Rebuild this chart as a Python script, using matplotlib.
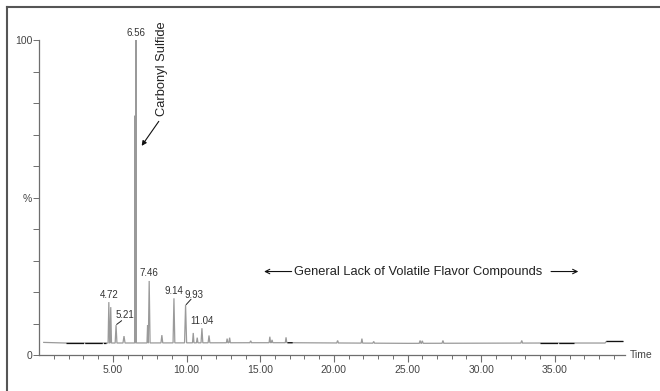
import numpy as np
import matplotlib
matplotlib.use("Agg")
import matplotlib.pyplot as plt
from matplotlib.lines import Line2D

plt.rcParams['font.family'] = ['Liberation Sans', 'DejaVu Sans']

# ---- data ----
# baseline (retention time, % level)
base_times = [0.3, 1.8, 4.6, 14.5, 17.0, 25.0, 34.0, 38.4, 38.5, 39.6]
base_levels = [4.0, 3.8, 3.8, 3.9, 3.9, 3.7, 3.8, 3.8, 4.3, 4.3]

# peaks: retention time, height (%), half width (min)
peak_times = [4.72, 4.85, 5.21, 5.75, 6.50, 6.56, 7.35, 7.46, 8.32, 9.14, 9.93,
              10.45, 10.72, 11.04, 11.52, 12.75, 12.92, 14.35, 15.65, 15.80,
              16.75, 20.25, 21.90, 22.70, 25.85, 26.00, 27.40, 32.75]
peak_heights = [16.8, 15.2, 9.5, 6.0, 76.0, 100.0, 9.5, 23.5, 6.3, 18.0, 15.9,
                7.0, 5.5, 8.5, 6.2, 5.2, 5.5, 4.5, 5.8, 4.8,
                5.6, 4.6, 5.2, 4.3, 4.6, 4.5, 4.6, 4.6]
peak_halfwidths = [0.05, 0.05, 0.06, 0.07, 0.03, 0.03, 0.04, 0.06, 0.06, 0.06, 0.07,
                   0.05, 0.05, 0.06, 0.06, 0.05, 0.05, 0.06, 0.05, 0.05,
                   0.05, 0.06, 0.05, 0.06, 0.06, 0.06, 0.06, 0.06]

# segments of the baseline drawn darker in the original
dark_segments = [(1.8, 4.55), (16.85, 17.2), (34.0, 36.3), (38.5, 39.6)]

# labelled peaks
label_texts = ['4.72', '5.21', '6.56', '7.46', '9.14', '9.93', '11.04']
label_peak_times = [4.72, 5.21, 6.56, 7.46, 9.14, 9.93, 11.04]
label_peak_heights = [16.8, 9.5, 100.0, 23.5, 18.0, 15.9, 8.5]
label_text_pos = [None, (5.80, 12.6), None, None, None, (10.50, 18.9), None]
leader_starts = [None, (5.59, 10.9), None, None, None, (10.30, 17.7), None]
leader_ends = [None, (5.25, 9.7), None, None, None, (9.97, 16.0), None]

x_ticks = [5, 10, 15, 20, 25, 30, 35]
x_ticklabels = ['5.00', '10.00', '15.00', '20.00', '25.00', '30.00', '35.00']
y_ticks = [0, 50, 100]
y_ticklabels = ['0', '%', '100']

# ---- build trace ----
def base_at(t):
    return np.interp(t, base_times, base_levels)

pts = [(t, l) for t, l in zip(base_times, base_levels)]
for t, h, w in zip(peak_times, peak_heights, peak_halfwidths):
    pts += [(t - w, base_at(t - w)), (t, h), (t + w, base_at(t + w))]
pts.sort(key=lambda p: p[0])
tx = np.array([p[0] for p in pts])
ty = np.array([p[1] for p in pts])

W, H = 660, 391
fig = plt.figure(figsize=(W / 100, H / 100), dpi=100)
ax = fig.add_axes([39.3 / W, 36 / H, 585.7 / W, 315 / H])

ax.plot(tx, ty, color='#9a9a9a', lw=0.9, solid_joinstyle='miter', zorder=3)
for a, b in dark_segments:
    ax.plot([a, b], [base_at(a), base_at(b)], color='#111111', lw=0.9,
            dashes=(14, 1.0), zorder=4)

ax.set_xlim(0, 39.76)
ax.set_ylim(0, 100)

for s in ['top', 'right']:
    ax.spines[s].set_visible(False)
for s in ['left', 'bottom']:
    ax.spines[s].set_color('#6e6e6e')
    ax.spines[s].set_linewidth(0.9)

ax.set_xticks(x_ticks)
ax.set_xticklabels(x_ticklabels)
ax.set_xticks(np.arange(1, 40, 1), minor=True)
ax.set_yticks(y_ticks)
ax.set_yticklabels(y_ticklabels)
ax.set_yticks(np.arange(10, 100, 10), minor=True)
ax.tick_params(axis='x', which='major', length=5, width=0.8, color='#6e6e6e',
               labelsize=7.5, labelcolor='#444444', pad=2)
ax.tick_params(axis='x', which='minor', length=3, width=0.7, color='#6e6e6e')
ax.tick_params(axis='y', which='both', length=4, width=0.7, color='#6e6e6e',
               labelsize=7.5, labelcolor='#444444', pad=1)

ax.text(1.008, 0.0, 'Time', transform=ax.transAxes, ha='left', va='center',
        fontsize=7.5, color='#444444')

# peak labels
for txt, t, h, pos, ls, le in zip(label_texts, label_peak_times, label_peak_heights,
                                  label_text_pos, leader_starts, leader_ends):
    if pos is None:
        ax.annotate(txt, xy=(t, h), xytext=(0, 1.8), textcoords='offset points',
                    ha='center', va='bottom', fontsize=7, color='#333333',
                    annotation_clip=False)
    else:
        ax.text(pos[0], pos[1], txt, ha='center', va='center', fontsize=7,
                color='#333333')
        ax.annotate('', xy=le, xytext=ls,
                    arrowprops=dict(arrowstyle='-', color='#222222', lw=0.7,
                                    shrinkA=0, shrinkB=0))

# Carbonyl Sulfide annotation
ax.annotate('Carbonyl Sulfide', xy=(6.95, 66.4), xytext=(8.31, 90.8),
            textcoords='data', rotation=90, ha='center', va='center',
            fontsize=9.3, color='#222222', annotation_clip=False,
            arrowprops=dict(arrowstyle='-|>', color='#111111', lw=0.8,
                            mutation_scale=7, relpos=(0.55, 0.0),
                            shrinkA=2, shrinkB=0))

# General lack text with arrows
ax.text(25.74, 26.5, 'General Lack of Volatile Flavor Compounds', ha='center',
        va='center', fontsize=9.3, color='#222222')
ax.annotate('', xy=(15.26, 26.5), xytext=(17.13, 26.5),
            arrowprops=dict(arrowstyle='->', color='#111111', lw=0.8,
                            mutation_scale=8, shrinkA=0, shrinkB=0))
ax.annotate('', xy=(36.59, 26.5), xytext=(34.74, 26.5),
            arrowprops=dict(arrowstyle='->', color='#111111', lw=0.8,
                            mutation_scale=8, shrinkA=0, shrinkB=0))

# outer frame (cropped at right and bottom)
fig.add_artist(Line2D([7 / W, 7 / W], [0, 1 - 7 / H], transform=fig.transFigure,
                      color='#555555', lw=1.5))
fig.add_artist(Line2D([7 / W, 1], [1 - 7 / H, 1 - 7 / H], transform=fig.transFigure,
                      color='#555555', lw=1.5))

fig.savefig('out.png', dpi=100)
